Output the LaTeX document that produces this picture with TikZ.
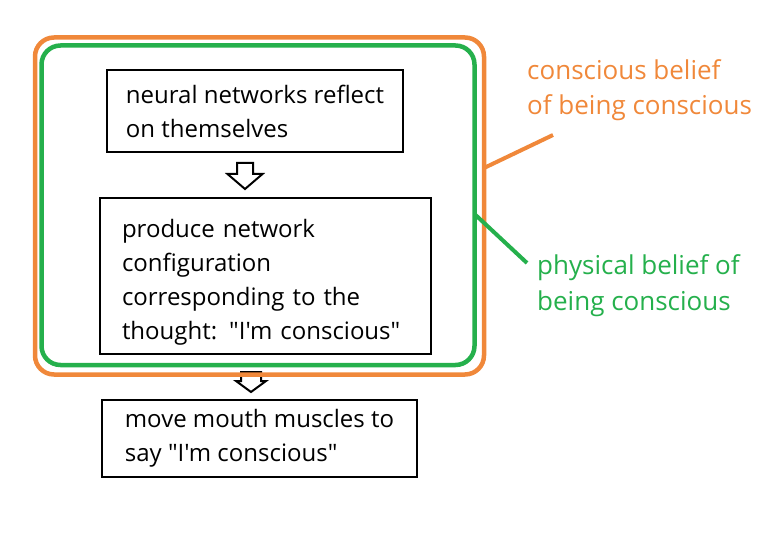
\documentclass[tikz,border=0pt]{standalone}
\usepackage{fontspec}
\setmainfont{Open Sans}[Ligatures=TeXOff]
\usetikzlibrary{calc}
\definecolor{paintorange}{RGB}{240,136,58}
\definecolor{paintgreen}{RGB}{37,176,76}
% hollow down arrow: top point, stem half width, stem length, head half width, head length
\newcommand{\blockdown}[5]{%
  \draw[hollow] #1 ++(-#2,0) -- ++(0,#3) -- ++(#2-#4,0) -- ++(#4,#5)
    -- ++(#4,-#5) -- ++(#2-#4,0) -- ++(0,-#3) -- cycle;}

\begin{document}
\begin{tikzpicture}[x=1pt,y=-1pt,
  every node/.style={font=\fontsize{24}{34}\selectfont},
  stepbox/.style={draw,line width=2pt,align=left,inner sep=0pt},
  hollow/.style={draw,line width=2pt,fill=white,line join=miter},
  frame/.style={line width=4.5pt,rounded corners=19pt},
  label/.style={align=left,anchor=west,inner sep=0pt,font=\fontsize{26}{35.5}\selectfont}]
\useasboundingbox (0,0) rectangle (770,540);
\node[stepbox,minimum width=296pt,minimum height=82pt] (reflect) at (255,111)
  {neural networks reflect\\on themselves};
\node[stepbox,text width=287pt,inner xsep=22pt,minimum height=156pt] (config) at (265.5,276)
  {\rule{0pt}{30pt}produce network\\configuration\\corresponding to the\\thought: "I'm conscious"};
\node[stepbox,minimum width=315pt,minimum height=77pt] (mouth) at (259.5,438.5)
  {move mouth muscles to\\say "I'm conscious"};
\blockdown{($(reflect.south)+(-10,10)$)}{8}{11}{17.5}{15}
\blockdown{($(config.south)+(-14.5,17)$)}{10}{9}{15}{11}
% the two frames
\draw[frame,paintorange] (35,37.5) rectangle (484,374.5);
\draw[frame,paintgreen] (41.5,45.5) rectangle (474.5,365);
\node[label,text=paintorange] (consc) at (527,90) {conscious belief\\of being conscious};
\node[label,text=paintgreen] (phys) at (537,285.5) {physical belief of\\being conscious};
\coordinate (oend) at (484,168);
\coordinate (gend) at (474.5,214);
\draw[paintorange,line width=4pt] (oend) -- (553,135);
\draw[paintgreen,line width=4pt] (gend) -- (527,263);
\end{tikzpicture}
\end{document}
